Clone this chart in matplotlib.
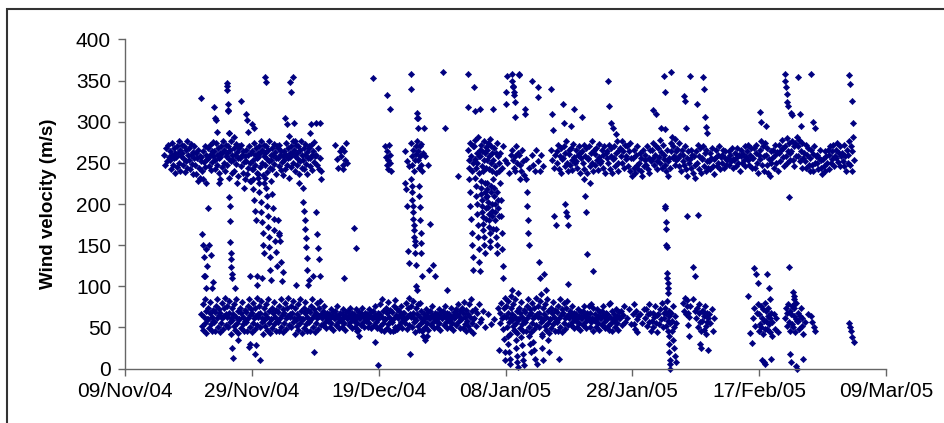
import pandas as pd
import matplotlib
matplotlib.use('Agg')
import matplotlib.pyplot as plt
import matplotlib.dates as mdates
from matplotlib.patches import Rectangle

plt.rcParams['font.family'] = ['Liberation Sans', 'DejaVu Sans']

# readings per day: "date v1 v2 ..." (values in m/s, spread over the day)
upper = [
    "2004-11-15 260 248 268 252 272 257",
    "2004-11-16 265 253 242 274 260 248 268 256 238 262",
    "2004-11-17 257 270 245 262 276 250 266 240 258 272",
    "2004-11-18 262 248 271 255 239 266 252 277 244 259",
    "2004-11-19 254 268 243 260 273 249 263 236 256 270",
    "2004-11-20 248 262 236 256 228 266 244 258 232 252",
    "2004-11-21 257 240 265 230 251 270 245 260 225 255",
    "2004-11-22 268 256 246 272 259 241 265 251 275 258",
    "2004-11-23 265 253 242 274 260 248 268 256 238 262",
    "2004-11-24 257 270 245 262 276 250 266 240 258 272",
    "2004-11-25 262 248 271 255 232 266 252 277 238 259",
    "2004-11-26 254 268 240 260 273 249 263 234 256 270",
    "2004-11-27 268 256 246 272 259 238 265 251 230 258",
    "2004-11-28 252 266 236 260 244 270 228 250 262 242",
    "2004-11-29 265 253 242 274 260 248 268 256 238 262",
    "2004-11-30 257 270 245 262 276 250 266 235 258 272",
    "2004-12-01 262 248 271 255 239 266 252 277 244 259",
    "2004-12-02 254 268 243 260 273 249 263 236 256 270",
    "2004-12-03 268 256 246 272 259 241 265 251 235 258",
    "2004-12-04 265 253 242 274 260 248 268 256 232 262",
    "2004-12-05 257 270 245 262 276 250 266 240 258 272",
    "2004-12-06 262 248 271 255 236 266 252 277 244 259",
    "2004-12-07 254 268 243 260 273 249 263 236 256 270",
    "2004-12-08 268 256 246 272 259 241 265 251 275 258",
    "2004-12-09 260 247 268 243 256 240",
    "2004-12-12 272 255 244 265",
    "2004-12-13 258 268 248 242 264 254 274 250",
    "2004-12-20 270 257 247 265 243 254 272 260 250 240",
    "2004-12-23 264 252 246",
    "2004-12-24 274 258 247 266 240 254 270 261",
    "2004-12-25 277 264 254 244 270 258 248 273 240 262",
    "2004-12-26 258 247",
    "2005-01-02 266 254 244 274 258 240 270 250",
    "2005-01-03 270 255 278 244 262 250 282 238 258 266",
    "2005-01-04 258 272 246 265 240 277 254 262 244 269",
    "2005-01-05 266 254 274 243 258 279 250 270 240 262",
    "2005-01-06 254 268 246 262 238 274 258 250",
    "2005-01-07 262 244 270 254",
    "2005-01-08 250 238 260",
    "2005-01-09 266 254 244 258 240 270 250 262",
    "2005-01-10 260 248 240 266 252 235",
    "2005-01-11 255 244",
    "2005-01-12 260 248 240 266",
    "2005-01-13 252 240 260 246",
    "2005-01-15 266 254 244 260",
    "2005-01-16 264 250 272 243 258 268 238 255",
    "2005-01-17 256 270 246 262 276 250 240 266",
    "2005-01-18 261 247 268 254 241 273 257 250",
    "2005-01-19 252 266 244 259 271 238 262 256",
    "2005-01-20 264 250 272 243 258 268 238 255",
    "2005-01-21 256 270 246 262 276 250 240 266",
    "2005-01-22 261 247 268 254 241 273 257 250",
    "2005-01-23 252 266 244 259 271 238 262 256",
    "2005-01-24 264 250 272 243 258 268 238 255",
    "2005-01-25 256 270 246 262 276 250 240 266",
    "2005-01-26 268 258 276 250 264 244 272 255",
    "2005-01-27 258 270 246 264 240 274 256 234",
    "2005-01-28 256 244 266 238 260 248 270 242",
    "2005-01-29 250 262 240 256 234 266 246 254",
    "2005-01-30 260 248 270 242 256 238 266 252",
    "2005-01-31 266 256 274 248 260 270 252 242",
    "2005-02-01 268 257 278 250 263 244 272 255",
    "2005-02-02 260 248 240 266 252 234 256 244",
    "2005-02-03 274 264 282 256 270 258 279 248 264 254",
    "2005-02-04 267 256 274 246 260 240 266 252",
    "2005-02-05 260 248 270 242 256 234 264 250",
    "2005-02-06 255 266 244 260 238 258 248 232",
    "2005-02-07 264 250 272 243 258 268 238 255",
    "2005-02-08 256 270 246 262 240 266 252 244",
    "2005-02-09 252 262 242 256 268 246 255 236",
    "2005-02-10 256 266 246 260 250 270 243 257",
    "2005-02-11 260 250 266 244 256 264 248 254",
    "2005-02-12 256 264 248 260 252 268 244 255",
    "2005-02-13 254 262 246 257 268 250 259 240",
    "2005-02-14 258 266 250 261 254 270 246 257",
    "2005-02-15 264 254 272 248 260 268 244 256",
    "2005-02-16 256 268 244 262 272 250 238 260",
    "2005-02-17 266 255 276 248 270 240 258 274",
    "2005-02-18 260 248 268 238 255 234 264 250",
    "2005-02-19 256 266 244 260 272 250 263 240",
    "2005-02-20 262 272 252 266 278 257 268 246",
    "2005-02-21 270 258 280 250 264 274 254 262",
    "2005-02-22 264 276 254 270 246 274 258 282",
    "2005-02-23 270 258 278 252 264 244 274 256",
    "2005-02-24 262 252 272 244 260 268 248 240",
    "2005-02-25 256 266 248 261 240 270 250 258",
    "2005-02-26 250 260 242 256 266 244 254 236",
    "2005-02-27 255 246 264 240 258 250 266 243",
    "2005-02-28 260 270 250 264 255 272 246 258",
    "2005-03-01 266 256 274 251 262 270 246 258",
    "2005-03-02 262 252 272 246 258 240 266 250",
    "2005-03-03 260 276 248 270 240 265 282 254",
]

lower = [
    "2004-11-21 66 52 78 47 63 84 55 70 43 60",
    "2004-11-22 60 74 49 67 81 54 63 45 71 58",
    "2004-11-23 57 69 46 76 62 85 51 65 72 44",
    "2004-11-24 68 55 80 61 48 73 64 86 53 66",
    "2004-11-25 63 76 50 68 82 57 62 42 74 59",
    "2004-11-26 66 52 78 47 63 84 55 70 43 60",
    "2004-11-27 60 74 49 67 81 54 63 45 71 58",
    "2004-11-28 57 69 46 76 62 85 51 65 72 44",
    "2004-11-29 68 55 80 61 48 73 64 86 53 66",
    "2004-11-30 63 76 50 68 82 57 62 42 74 59",
    "2004-12-01 66 52 78 47 63 84 55 70 43 60",
    "2004-12-02 60 74 49 67 81 54 63 45 71 58",
    "2004-12-03 57 69 46 76 62 85 51 65 72 44",
    "2004-12-04 68 55 80 61 48 73 64 86 53 66",
    "2004-12-05 63 76 50 68 82 57 62 42 74 59",
    "2004-12-06 66 52 78 47 63 84 55 70 43 60",
    "2004-12-07 60 74 49 67 81 54 63 45 71 58",
    "2004-12-08 57 69 46 76 62 85 51 65 72 44",
    "2004-12-09 68 55 80 61 48 73 64 82 53 66",
    "2004-12-10 61 70 53 65 76 57 63 49 68 60",
    "2004-12-11 58 66 50 62 72 55 64 47 69 61",
    "2004-12-12 61 70 53 65 76 57 63 49 68 60",
    "2004-12-13 58 66 50 62 72 55 64 47 69 61",
    "2004-12-14 61 70 53 65 74 57 63 49 68 60",
    "2004-12-15 58 66 50 62 72 55 64 47 69 61",
    "2004-12-16 61 68 53 65 74 57 63 51 68 60",
    "2004-12-17 58 66 50 62 72 55 64 49 69 61",
    "2004-12-18 61 70 53 65 76 57 63 49 68 60",
    "2004-12-19 66 52 78 47 63 84 55 70 45 60",
    "2004-12-20 60 74 49 67 81 54 63 45 71 58",
    "2004-12-21 57 69 46 76 62 83 51 65 72 48",
    "2004-12-22 61 70 53 65 76 57 63 49 68 60",
    "2004-12-23 68 55 80 61 48 73 64 86 53 66",
    "2004-12-24 63 76 50 68 82 57 62 44 74 59",
    "2004-12-25 66 52 78 47 63 80 55 70 45 60",
    "2004-12-26 58 66 50 62 72 55 64 47 69 61",
    "2004-12-27 61 70 53 65 76 57 63 49 68 60",
    "2004-12-28 58 66 50 62 72 55 64 47 69 61",
    "2004-12-29 61 70 53 65 76 57 63 49 68 60",
    "2004-12-30 58 66 50 62 74 55 64 47 69 61",
    "2004-12-31 63 72 53 66 78 57 64 49 70 60",
    "2005-01-01 60 74 49 67 81 54 63 45 71 58",
    "2005-01-02 66 52 78 47 63 84 55 70 43 60",
    "2005-01-03 62 72 52 67 78 56",
    "2005-01-04 60 70 50",
    "2005-01-05 66 54",
    "2005-01-06 60 74",
    "2005-01-07 68 55 80 61 48 73 64 86",
    "2005-01-08 63 76 50 68 82 57 62 42 74 59",
    "2005-01-09 66 52 78 47 63 84 55 70 43 60",
    "2005-01-10 60 74 49 67 81 54 63 45 71 58",
    "2005-01-11 57 69 46 76 62 85 51 65 72 44",
    "2005-01-12 68 55 80 61 48 73 64 86 53 66",
    "2005-01-13 63 76 50 68 82 57 62 42 74 59",
    "2005-01-14 66 52 78 47 63 84 55 70 43 60",
    "2005-01-15 60 74 49 67 81 54 63 45 71 58",
    "2005-01-16 57 69 46 76 62 85 51 65 72 44",
    "2005-01-17 68 55 80 61 48 73 64 82 53 66",
    "2005-01-18 61 70 53 65 76 57 63 49 68 60",
    "2005-01-19 58 66 50 62 72 55 64 47 69 61",
    "2005-01-20 61 70 53 65 76 57 63 49 68 60",
    "2005-01-21 63 76 50 68 78 57 62 46 74 59",
    "2005-01-22 58 66 50 62 72 55 64 47 69 61",
    "2005-01-23 61 70 53 65 76 57 63 49 68 60",
    "2005-01-24 66 52 78 47 63 80 55 70 45 60",
    "2005-01-25 58 66 50 62 72 55 64 47 69 61",
    "2005-01-26 61 70 53 65 76 57",
    "2005-01-27 62 72 54",
    "2005-01-28 66 54 78 48 70 60 44 64",
    "2005-01-29 66 55 72",
    "2005-01-30 62 72 52 66 78 56 68 46",
    "2005-01-31 58 68 50 63 76 55 65 44",
    "2005-02-01 66 54 72 60 80 50 68",
    "2005-02-02 62 74 52 67 82 58 46 70 64 55",
    "2005-02-03 68 58 76 50 64 55",
    "2005-02-05 80 70 86 66 76 83 68 63",
    "2005-02-06 76 84 70",
    "2005-02-07 62 74 50 68 78 56 45 70",
    "2005-02-08 58 70 47 64 76 52 42 68 56 62",
    "2005-02-09 66 55 72 46 62",
    "2005-02-16 62 74 52 67 78 46",
    "2005-02-17 66 54 76 50 62 72 42 58 80 48",
    "2005-02-18 58 70 48 64 74 54 62 44 68 40",
    "2005-02-19 56 66 48 62 44",
    "2005-02-21 62 74 52 67 78 56 46 70",
    "2005-02-22 66 54 76 50 64 74 44 60 80 58",
    "2005-02-23 58 68 48 64 74 52 62 42",
    "2005-02-24 56 66",
    "2005-02-25 64 56 50 45",
    "2005-03-03 55 50 46 38 32",
]

scattered = [
    "2004-11-21 329 163 150 136 113 112 98 145 125",
    "2004-11-22 195 150 138 98 105",
    "2004-11-23 318 305 302 288 225 230",
    "2004-11-25 343 339 347 322 313 314 286 286 209 198 179 154 141 133 123 115 110 25 13",
    "2004-11-26 281 98 225 35",
    "2004-11-27 325 220",
    "2004-11-28 309 302 288 26 30 112 228",
    "2004-11-29 297 230 218 292 205 192 18 180 28 102 112 232",
    "2004-11-30 236 226 215 10 203 190 110 178 165 150 140 225",
    "2004-12-01 355 232 220 348 210 198 185 172 160 148 135 120 108",
    "2004-12-02 228 212 195 182 168 155 142 125",
    "2004-12-03 180 165 162 155 130 106 117",
    "2004-12-04 305 297 283",
    "2004-12-05 348 336 355 298 276 102",
    "2004-12-06 225",
    "2004-12-07 220 203 191 181 169 159 148 134 120 102 108",
    "2004-12-08 286 297 112 20",
    "2004-12-09 298 190 163 147 133 112 299 230",
    "2004-12-13 110",
    "2004-12-15 171 147 45 40",
    "2004-12-18 353 32 4",
    "2004-12-20 332 316",
    "2004-12-21 47",
    "2004-12-23 226 218 197 143 128 18",
    "2004-12-24 358 340 230 222 214 205 198 190 182 175 168 160 155 150 140 126 100 95",
    "2004-12-25 311 305 305 293 222 210 196 180 165 152 140 112 47 40",
    "2004-12-26 293 35 40 120",
    "2004-12-27 176 126 112",
    "2004-12-29 360 293 96",
    "2004-12-31 234",
    "2005-01-02 358 318 230 215 198 182 165 150 135 120",
    "2005-01-03 342 313 232 222 210 200 188 175 160 145 130 118",
    "2005-01-04 316 228 220 212 205 198 190 184 176 168 160 150 140 225 215 208 195 182",
    "2005-01-05 226 218 210 203 196 188 180 172 165 155 148 222 214 200 192 185 170",
    "2005-01-06 315 230 220 210 200 190 180 170 160 150 140 215 205 195 185 22",
    "2005-01-07 240 225 205 185 165 145 125 110 36 20 10",
    "2005-01-08 336 322 356 40 30 20 12 5 88 96",
    "2005-01-09 358 350 344 342 336 332 324 306 45 35 25 15 8 2 92",
    "2005-01-10 358 357 230 38 28 18 10 4",
    "2005-01-11 315 310 230 215 198 180 165 150 40 30 20",
    "2005-01-12 350 32 22 12 5",
    "2005-01-13 342 330 130 110 90 40 25 10",
    "2005-01-14 115 95 35 20",
    "2005-01-15 340 310 290 185 175",
    "2005-01-16 12",
    "2005-01-17 322 299 200 190 185 175 103",
    "2005-01-18 295 316",
    "2005-01-20 306 230 210 190 139",
    "2005-01-21 226 119",
    "2005-01-24 350 319 299 292",
    "2005-01-25 285",
    "2005-01-31 314 309",
    "2005-02-01 292",
    "2005-02-02 356 336 291 197 195 178 170 150 148 116 110 104 98 92 40 30 20 10 5 0",
    "2005-02-03 361 45 35 25 15 8",
    "2005-02-05 331 325 293 185 53 40",
    "2005-02-06 356 123 113",
    "2005-02-07 322 187 30 25",
    "2005-02-08 354 340 306 294 286 22",
    "2005-02-15 88 43 31",
    "2005-02-16 122 115 104",
    "2005-02-17 312 300 10 8 5",
    "2005-02-18 295 115 98 84 12",
    "2005-02-21 358 349 342 334 324 319 123 209 18 8",
    "2005-02-22 311 308 93 88 84 80 3 0",
    "2005-02-23 355 310 295 12",
    "2005-02-25 358 300 292",
    "2005-03-03 357 346 325 298",
]

xticks = pd.date_range('2004-11-09', '2005-03-09', freq='20D')
yticks = list(range(0, 401, 50))


def readings(rows):
    t, v = [], []
    for row in rows:
        parts = row.split()
        day = pd.Timestamp(parts[0])
        vals = [float(x) for x in parts[1:]]
        n = len(vals)
        for k, val in enumerate(vals):
            t.append(day + pd.Timedelta(days=(k + 0.5) / n))
            v.append(val)
    return t, v


fig = plt.figure(figsize=(9.45, 4.23), dpi=100)
ax = fig.add_axes([125 / 945, 54.5 / 423, 761 / 945, 329 / 423])

for rows in (upper, lower, scattered):
    t, v = readings(rows)
    ax.plot(t, v, ls='none', marker='D', ms=3.2, color='#000080',
            mec='#000080', mew=0.4, clip_on=False)

ax.set_xlim(pd.Timestamp('2004-11-09'), pd.Timestamp('2005-03-09'))
ax.set_ylim(0, 400)
ax.set_yticks(yticks)
ax.set_xticks(xticks)
ax.xaxis.set_major_formatter(mdates.DateFormatter('%d/%b/%y'))

for s in ['top', 'right']:
    ax.spines[s].set_visible(False)
for s in ['left', 'bottom']:
    ax.spines[s].set_color('#666666')
    ax.spines[s].set_linewidth(1)

ax.tick_params(direction='out', length=5, width=1, color='#666666',
               labelsize=15, pad=5)
ax.set_ylabel('Wind velocity (m/s)', fontsize=13.5, fontweight='bold')
ax.yaxis.set_label_coords(-0.09, 0.5)

fig.add_artist(Rectangle((7 / 945, -0.5), 2, 0.5 + 1 - 8.5 / 423,
                         transform=fig.transFigure, fill=False,
                         edgecolor='#333333', lw=1.5))

fig.savefig('out.png', dpi=100)
